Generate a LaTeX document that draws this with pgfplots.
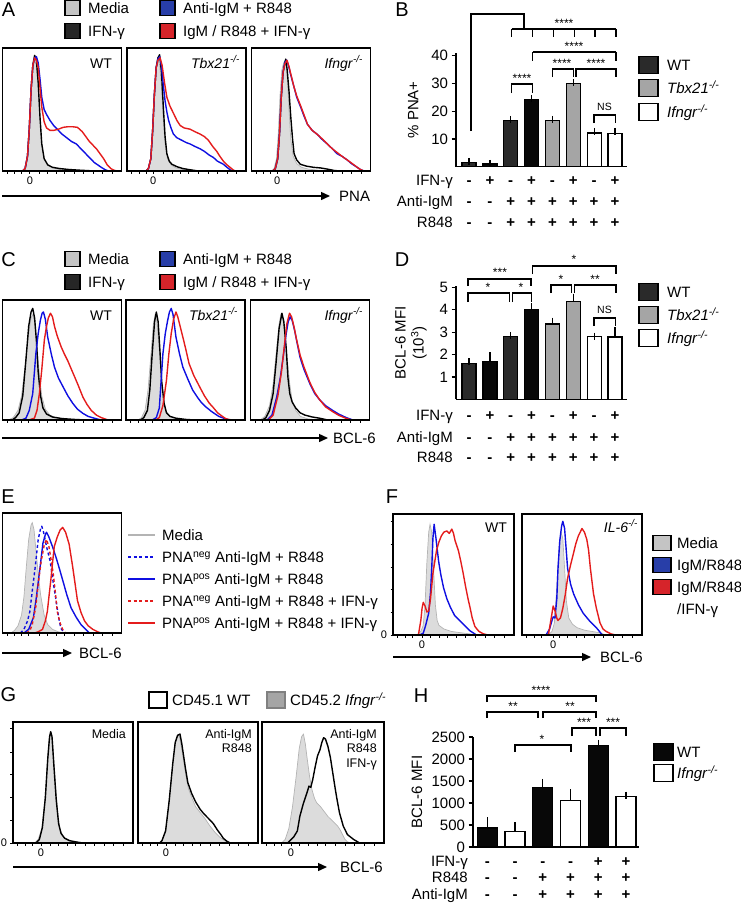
\documentclass[border=0pt]{standalone}
\usepackage{pgfplots}
\pgfplotsset{compat=1.18}
\usepackage{fontspec}
\setmainfont{Liberation Sans}
\usetikzlibrary{arrows.meta}
\definecolor{cblue}{RGB}{15,15,225}
\definecolor{cred}{RGB}{228,28,28}
\definecolor{cgfill}{RGB}{220,220,220}
\definecolor{cgline}{RGB}{180,180,180}
\definecolor{lblue}{RGB}{40,62,168}
\definecolor{lred}{RGB}{214,36,42}
\definecolor{lgray}{RGB}{196,196,196}
\definecolor{lblack}{RGB}{38,38,38}
\definecolor{wtdark}{RGB}{42,42,42}
\definecolor{wtblack}{RGB}{8,8,8}
\definecolor{tbxgray}{RGB}{165,165,165}
\definecolor{ggray}{RGB}{165,165,165}
\newcommand{\fs}{\fontsize{15}{18}\selectfont}
\newcommand{\fsa}{\fontsize{14}{16}\selectfont}
\newcommand{\fsg}{\fontsize{12.5}{14.3}\selectfont}
\newcommand{\fsx}{\fontsize{11}{13}\selectfont}
\newcommand{\fst}{\fontsize{12}{14}\selectfont}
\newcommand{\fsn}{\fontsize{10.5}{12}\selectfont}
\newcommand{\fsl}{\fontsize{20}{24}\selectfont}
\newcommand{\ko}{\textsuperscript{\textit{-/-}}}
\pgfplotsset{
  every axis/.append style={/pgf/number format/assume math mode=true, /pgf/number format/1000 sep={}},
  hist/.style={scale only axis, anchor=north west, xmin=0, xmax=100, ymin=0, ymax=100,
    axis on top, axis line style={line width=1.6pt}, ytick=\empty, xtick pos=bottom,
    xtick={#1,4,10,16,31,38,45,52,60,68,76,84,92}, xticklabels={,,,,,,,,,,,,},
    tick align=outside, major tick length=2.5pt, tick style={line width=0.8pt,black},
    tick label style={font=\fsx}, clip=true},
  hist/.default=22,
  zero/.style={xticklabels={0,,,,,,,,,,,,}},
  fillg/.style={fill=cgfill, draw=cgline, line width=0.7pt, mark=none},
  cb/.style={black, line width=1.4pt, mark=none, line join=round},
  cu/.style={cblue, line width=1.4pt, mark=none, line join=round},
  cr/.style={cred, line width=1.4pt, mark=none, line join=round},
  barax/.style={scale only axis, anchor=north west, axis x line*=bottom, axis y line*=left,
    axis line style={line width=1.5pt}, xtick=\empty, ytick pos=left, tick align=outside,
    major tick length=4.5pt, tick style={line width=1.3pt,black}, tick label style={font=\fs},
    ylabel style={font=\fs}, clip=false},
  bars/.style={ybar, bar width=#1, bar shift=0pt, draw=black, line width=1.3pt, mark=none,
    error bars/y dir=plus, error bars/y explicit,
    error bars/error bar style={line width=1.3pt, black},
    error bars/error mark options={line width=1.3pt, mark size=3.5pt, black}},
}
\tikzset{
  brk/.style={line width=1.3pt, black},
  arr/.style={line width=1.4pt, -{Triangle[length=9pt,width=8pt]}},
  lab/.style={anchor=base west, inner sep=0},
  labr/.style={anchor=base east, inner sep=0},
  sgn/.style={anchor=base, inner sep=0},
  ast/.style={font=\fst, inner sep=0},
}
\newcommand{\brk}[4]{\draw[brk] (#1,#4) -- (#1,#3) -- (#2,#3) -- (#2,#4);}
\begin{document}
\begin{tikzpicture}[font=\fs]
\useasboundingbox (0,0) rectangle (741pt,-903pt);

% ================= Panel A =================
\begin{axis}[hist=23, zero, at={(2.5pt,-48pt)}, width=119pt, height=123pt]
\addplot[fillg] coordinates {(17,0)(19,2)(21,10)(22.5,30)(24,62)(25.5,82)(27,90)(28.5,86)(30,68)(31.5,42)(33,22)(35,10)(38,5)(42,2.5)(48,1.2)(58,0.5)(70,0)} \closedcycle;
\addplot[cb] coordinates {(17,0)(19,2)(21,12)(22.5,34)(24,66)(25.5,86)(27,94)(28.5,90)(30,72)(31.5,44)(33,22)(35,10)(38,5)(42,3)(48,2)(56,1.2)(66,0.6)(78,0)};
\addplot[cu] coordinates {(17,0)(19,2)(21,12)(22.5,34)(24,66)(25.5,86)(27,92)(28.5,93)(30,88)(31.5,75)(33,60)(35,50)(37,46)(40,41)(43,37)(47,33)(50,30)(54,27)(58,24)(62,22)(65,19)(68,16)(71,13)(74,10)(77,7)(80,5)(83,3)(86,1.2)(89,0)};
\addplot[cr] coordinates {(17,0)(19,2)(21,12)(22.5,34)(24,66)(25.5,86)(27,92)(28.5,90)(30,84)(31.5,68)(33,52)(35,40)(37,35)(40,33)(43,33)(47,34)(51,35.5)(55,36)(59,36)(63,35.5)(67,32)(70,28)(73,24)(76,21)(79,18)(82,14)(85,10)(88,5)(91,2)(94,0.5)(97,0)};
\end{axis}
\begin{axis}[hist=22, zero, at={(127pt,-48pt)}, width=119pt, height=123pt]
\addplot[fillg] coordinates {(16,0)(18,2)(20,10)(21.5,30)(23,62)(24.5,82)(26,90)(27.5,86)(29,68)(30.5,42)(32,22)(34,10)(37,5)(41,2.5)(47,1.2)(57,0.5)(68,0)} \closedcycle;
\addplot[cb] coordinates {(16,0)(18,2)(20,10)(21.5,32)(23,62)(24.5,84)(26,92)(27.4,94.5)(29,80)(30.7,49)(32,28)(33.5,14)(35.5,8)(37.7,5.5)(42,3.5)(47,2)(53,1)(60,0)};
\addplot[cu] coordinates {(16,0)(18,2)(20,10)(21.5,32)(23,62)(24.5,84)(26,91)(27.5,93)(29,85)(30.5,70)(32,57)(33.5,48)(35,41)(37,35)(39,30)(42,27)(46,25)(50,23)(53,22)(57,20)(61.5,18)(65,16)(69,13)(72.6,11)(76,8)(79,6.5)(81,5.5)(84,3)(86.6,1)(89,0)};
\addplot[cr] coordinates {(16,0)(18,2)(20,10)(21.5,32)(23,62)(24.5,84)(26,90)(27.8,92)(29.5,86)(31.5,72)(33.5,60)(36,53)(39,47)(42,41)(44.7,37)(48,35)(53,34)(57,32)(61.5,30)(65,28)(68.4,25)(72,20)(75.4,16)(78,12)(81,8)(84,5)(86.6,3)(89,1)(91,0)};
\end{axis}
\begin{axis}[hist=21.5, zero, at={(251.5pt,-48pt)}, width=119pt, height=123pt]
\addplot[fillg] coordinates {(17,0)(19,2)(21,10)(22.5,30)(24,62)(25.5,82)(27,88)(28.5,90)(30,78)(31.5,50)(33,26)(35,12)(38,6)(42,3)(48,1.5)(58,0.5)(70,0)} \closedcycle;
\addplot[cb] coordinates {(18,0)(20,2)(22,10)(23.5,30)(25,60)(26.5,80)(28,88)(28.8,91)(30,82)(31.5,65)(33,44)(34.5,26)(35.8,14)(38,9)(41,5.5)(46,4)(52,3)(58,2.5)(64,1.5)(69,0.5)(74,0)};
\addplot[cu] coordinates {(18,0)(20,2)(22,10)(23.5,30)(25,60)(26.5,80)(28,88)(29.6,90)(31,86)(33,78)(35.8,68)(38,60)(41.3,52)(44,45)(47,38)(51,33)(55,30)(59,26)(63.7,22)(68,18)(72,14)(76,12)(80.4,9)(84,6)(88.8,3)(91,1.5)(94.4,0)};
\addplot[cr] coordinates {(18,0)(20,2)(22,10)(23.5,30)(25,60)(26.5,80)(28,87)(29.8,90)(31.5,85)(33.5,77)(35.8,68)(38,61)(41.3,53)(44,46)(47,38)(51,33)(55,30)(59,26.5)(63.7,22)(68,18)(72,15)(76,12)(80.4,9)(84,6.5)(88.8,3)(91,1.5)(94.4,0)};
\end{axis}

% ================= Panel C =================
\begin{axis}[hist, at={(2.5pt,-300pt)}, width=119pt, height=120pt]
\addplot[fillg] coordinates {(5,0)(9,2)(13,8)(16,20)(19,45)(22,72)(24,85)(25.5,88)(27,82)(29,62)(31,38)(33,20)(36,9)(40,4)(46,1.5)(55,0)} \closedcycle;
\addplot[cb] coordinates {(8,0)(11,2)(14,6)(17,20)(19.5,48)(22,78)(24,90)(25.4,93)(27,85)(28.5,66)(30,40)(32,20)(34,10)(37,5)(42,2.5)(50,1.2)(60,0.5)(70,0)};
\addplot[cu] coordinates {(16,0)(19.7,1.5)(22.5,8)(25.4,22)(28,55)(30,72)(31.8,83)(33.3,89)(34.4,90)(36,84)(38,69)(41,55)(43.7,44)(47,35)(50.7,28)(55,20)(59,14)(63,9)(67.6,5.5)(72,3)(77.5,1.4)(83,0)};
\addplot[cr] coordinates {(22,0)(26.8,1.5)(29,8)(31,22)(33,42)(35.2,67)(37,78)(38.5,85)(40.3,89)(42,86)(43.7,78)(46,70)(49.3,61)(52,55)(55,49)(58,42)(60.6,36)(64,28)(67.6,19)(71,13)(74.6,8)(79,4)(83,2)(88.7,0)};
\end{axis}
\begin{axis}[hist, at={(126pt,-300pt)}, width=119pt, height=120pt]
\addplot[fillg] coordinates {(10,0)(13,2)(16,8)(18.5,25)(21,55)(23,80)(24.5,88)(26,82)(28,58)(30,32)(32,15)(34,7)(37,3)(42,1.2)(50,0)} \closedcycle;
\addplot[cb] coordinates {(12,0)(15,2)(18,8)(20,25)(22,55)(24,82)(25.5,90)(27,82)(28.5,58)(30,32)(32,14)(34,6)(37,3)(42,1.5)(50,0.5)(58,0)};
\addplot[cu] coordinates {(22,0)(25.5,2)(28,10)(31,55)(33,72)(35,83)(36.5,90)(38,93)(39.5,88)(42,69)(45,55)(47.8,44)(52,34)(56,25)(60,19)(63,15)(67,11)(72,7)(78,3)(83,1.2)(87,0)};
\addplot[cr] coordinates {(25,0)(28,2)(31,12)(34,33)(36,55)(38,72)(40,84)(42,90)(43.5,86)(46,76)(47.8,69)(50,60)(53,47)(57,37)(61.7,28)(66,20)(70,14)(72.8,11)(77,6)(81,3)(84,1)(89,0)};
\end{axis}
\begin{axis}[hist, at={(250.5pt,-300pt)}, width=119pt, height=120pt]
\addplot[fillg] coordinates {(8,0)(12,3)(16,12)(19,30)(22,60)(24,80)(25.5,88)(27,86)(29,72)(31,50)(33,30)(35,16)(38,8)(42,3)(48,1)(56,0)} \closedcycle;
\addplot[cb] coordinates {(10,0)(13,2)(16,8)(19,22)(21.5,48)(24,76)(26.4,89)(28,82)(30,60)(31.5,35)(33,22)(35,15)(38,10)(41.7,6)(46,4)(52,2.5)(58,1.5)(65,0)};
\addplot[cu] coordinates {(14,0)(18,4)(22,19)(25,35)(27.8,55)(30,72)(31.7,82)(33.3,86)(35,83)(37,75)(39,65)(41.7,52)(45,42)(50,30)(54,22)(58,17)(63,12)(69,8)(74,5)(80.5,2)(86,0)};
\addplot[cr] coordinates {(15,0)(19,4)(23,20)(26,40)(28.5,62)(30.5,80)(32.8,89)(34.5,86)(36.5,78)(38.5,68)(41.7,54)(45,44)(50,31)(54,23)(58,17)(63,11)(69,7)(74,4)(80,1.5)(85,0)};
\end{axis}

% ================= Panel E =================
\begin{axis}[hist, at={(2.5pt,-513pt)}, width=119pt, height=120pt]
\addplot[fillg] coordinates {(7,0)(10,2)(13,6)(16,15)(18,30)(20,55)(22,78)(24,90)(25,92)(26.5,86)(28,70)(30,50)(32,32)(35,15)(38,7)(42,3)(47,1)(52,0)} \closedcycle;
\addplot[cu, dash pattern=on 3pt off 2.5pt] coordinates {(15,0)(18,3)(21,10)(23,18)(25,35)(27.5,55)(30,78)(32,87)(33,89)(34.5,84)(37,72)(40,60)(42.5,43)(45,27)(47,14)(49,4)(52,0)};
\addplot[cu] coordinates {(18,0)(22,3)(26,13)(28.5,30)(31.6,55)(34,75)(36,82)(37,84)(39,80)(42,72)(45,63)(48,53)(50.6,44)(54,32)(57.6,21)(62,13)(66,7)(70,3)(73,0)};
\addplot[cr, dash pattern=on 3pt off 2.5pt] coordinates {(20,0)(23,2)(25,7)(28,22)(30,41)(32.5,60)(35,73)(37,78)(39,72)(41,60)(42.7,49)(44.5,33)(46,18)(48.5,8)(50.6,3)(53,0)};
\addplot[cr] coordinates {(27,0)(30,1)(33.6,3)(36,10)(37.7,18)(39,30)(40.6,44)(42,58)(43.5,72)(46,80)(48.5,86)(50.6,88)(53,84)(56,74)(59,55)(63,27)(66,17)(69,10)(72,6)(76,3)(80,1)(83,0)};
\end{axis}

% ================= Panel F =================
\begin{axis}[hist=24, zero, at={(393pt,-514pt)}, width=121pt, height=121pt,
  ytick={0,19,38,56,75,94}, yticklabels={0,,,,,}, ytick pos=left]
\addplot[fillg] coordinates {(20,0)(23,3)(25,8)(26.5,25)(28,60)(29.5,85)(30.6,91.5)(32,85)(33.5,55)(35,25)(36.5,12)(38,8)(42,5)(48,3)(55,2)(63,1)(68,0)} \closedcycle;
\addplot[cu] coordinates {(22,0)(25,1.5)(27,8)(29.5,18)(31,35)(32,55)(33,80)(34,91.5)(35.5,80)(37.7,61)(39.5,50)(41.8,39)(44.5,30)(47.4,23)(51,16)(55.5,11.6)(60,7)(63.6,3.5)(69,0)};
\addplot[cr] coordinates {(21,0)(23,12)(24,22)(25,27)(26.5,24)(28,19)(29.5,20)(31,30)(33,51)(36,70)(38,77)(40,82)(42,85)(44.5,86)(46.5,84)(48.6,87.5)(50,84)(51.3,78)(54,70)(56,61)(58,51)(60,40)(62,30)(63.6,23)(65.5,14)(67.7,7)(71,3)(74.6,1)(78.5,0)};
\end{axis}
\begin{axis}[hist=26, zero, at={(522pt,-514pt)}, width=120pt, height=121pt]
\addplot[fillg] coordinates {(22,0)(25,3)(27,10)(29,40)(31,75)(32.5,85)(34,80)(35.5,55)(37,28)(39,14)(42,9)(46,6)(52,4)(58,3)(64,2)(70,0)} \closedcycle;
\addplot[cu] coordinates {(20,0)(23,5)(25,12)(26,15)(27.5,14)(29,30)(30,55)(31.5,78)(33,90)(34,94)(35.5,88)(38,55)(40.5,42)(43,34)(47,25)(51,18)(56,12)(62,6)(67,0)};
\addplot[cr] coordinates {(22,0)(24,12)(26,24)(27.5,20)(29,14)(30,12)(32,14)(34,22)(36,33)(38,47)(40.5,58)(43,68)(45,76)(47,82)(50,88)(52,85)(54,79)(55.5,70)(57,55)(59.6,34)(62,22)(65,10)(67.5,5)(70,3)(74,1)(78,0)};
\end{axis}

% ================= Panel G =================
\begin{axis}[hist=23.3, zero, at={(13pt,-722pt)}, width=120pt, height=121pt,
  ytick={0,19,38,57,75,95}, yticklabels={0,,,,,}, ytick pos=left]
\addplot[fillg] coordinates {(18,0)(21,3)(24,12)(26.5,35)(28.5,65)(30,85)(31.4,91)(33,84)(35,55)(37,28)(39,12)(42,5)(46,2)(52,0.5)(58,0)} \closedcycle;
\addplot[cb] coordinates {(19,0)(22,3)(24.5,13)(27,38)(29,70)(30.5,88)(31.4,92)(32.5,88)(34,65)(36,36)(38,16)(40,8)(43,4)(47,2)(52,1)(58,0)};
\end{axis}
\begin{axis}[hist=23.3, zero, at={(138pt,-722pt)}, width=120pt, height=121pt]
\addplot[fillg] coordinates {(18,0)(20,2)(23,10)(26,35)(29,65)(31,82)(33,89)(34.5,88)(36,80)(38,68)(40,55)(42,45)(45,37)(48,30)(52,25)(56,20)(60,14)(64,9)(68,5)(72,2)(77,0)} \closedcycle;
\addplot[cb] coordinates {(18,0)(20,2)(23,10)(26,35)(29,66)(31,83)(33,89)(35,90)(36.5,82)(38,72)(39.5,62)(41.5,50)(44.7,41)(48,34)(51.7,28)(55,24)(59,20)(62.8,16)(66,11)(69,7)(71,4)(74,1.5)(77,0)};
\end{axis}
\begin{axis}[hist=23.8, zero, at={(262pt,-722pt)}, width=122pt, height=121pt]
\addplot[fillg] coordinates {(16,0)(19,3)(22,12)(25,30)(28,55)(30.5,78)(32.5,88)(34,90)(35.5,82)(37,70)(39,55)(41,44)(43,37)(45,33)(48,30)(51,26)(54,22)(57,19)(60,16)(62,14)(64,11)(66,7)(68,3)(70,1)(73,0)} \closedcycle;
\addplot[cb] coordinates {(21,0)(23,2)(26,5)(29,10)(31,22)(34,33)(37,42)(38.5,47)(40,46)(41.5,52)(43.6,63)(45.5,72)(47.5,77)(49,83)(50.5,87)(52,86)(54,80)(56,71)(58,58)(60,45)(61.5,36)(63.5,25)(66.6,14)(70,7)(75,3)(80,0)};
\end{axis}

% ================= Panel B =================
\begin{axis}[barax, at={(456pt,-53pt)}, width=171pt, height=113.7pt,
  xmin=0.375, xmax=8.57, ymin=0, ymax=41, ytick={10,20,30,40},
  ylabel={\% PNA+}, ylabel style={at={(axis description cs:-0.25,0.5)}, anchor=center}]
\addplot[fill=wtdark, bars=14pt] coordinates {(1,1.5) +- (0,0.4) (3,16.6) +- (0,0.5)};
\addplot[fill=wtblack, bars=14pt] coordinates {(2,1.0) +- (0,0.2) (4,24.3) +- (0,0.3)};
\addplot[fill=tbxgray, bars=14pt] coordinates {(5,16.6) +- (0,0.5) (6,29.9) +- (0,0.3)};
\addplot[fill=white, bars=14pt] coordinates {(7,12.2) +- (0,0.5) (8,12.0) +- (0,0.7)};
\end{axis}

% ================= Panel D =================
\begin{axis}[barax, at={(456pt,-286.3pt)}, width=171pt, height=113.1pt,
  xmin=0.375, xmax=8.57, ymin=0, ymax=5.05, ytick={1,2,3,4,5},
  ylabel={BCL-6 MFI\\(10\textsuperscript{3})}, ylabel style={at={(axis description cs:-0.263,0.5)}, anchor=center, align=center}]
\addplot[fill=wtdark, bars=14pt] coordinates {(1,1.6) +- (0,0.09) (3,2.8) +- (0,0.06)};
\addplot[fill=wtblack, bars=14pt] coordinates {(2,1.68) +- (0,0.26) (4,4.0) +- (0,0.14)};
\addplot[fill=tbxgray, bars=14pt] coordinates {(5,3.37) +- (0,0.12) (6,4.37) +- (0,0.2)};
\addplot[fill=white, bars=14pt] coordinates {(7,2.8) +- (0,0.03) (8,2.78) +- (0,0.3)};
\end{axis}

% ================= Panel H =================
\begin{axis}[barax, at={(473pt,-737pt)}, width=166pt, height=110pt,
  xmin=0.485, xmax=6.47, ymin=0, ymax=2500, ytick={0,500,1000,1500,2000,2500},
  ylabel={BCL-6 MFI}, ylabel style={at={(axis description cs:-0.337,0.5)}, anchor=center}]
\addplot[fill=wtblack, bars=20pt] coordinates {(1,430) +- (0,170) (3,1360) +- (0,110) (5,2310) +- (0,45)};
\addplot[fill=white, bars=20pt] coordinates {(2,350) +- (0,135) (4,1060) +- (0,170) (6,1150) +- (0,30)};
\end{axis}

\begin{scope}[x=1pt,y=-1pt]
% panel letters
\node[font=\fsl, inner sep=0] at (8.5,10) {A};
\node[font=\fsl, inner sep=0] at (402,10) {B};
\node[font=\fsl, inner sep=0] at (8.5,260) {C};
\node[font=\fsl, inner sep=0] at (402,260) {D};
\node[font=\fsl, inner sep=0] at (8,497) {E};
\node[font=\fsl, inner sep=0] at (392,497) {F};
\node[font=\fsl, inner sep=0] at (8.5,695) {G};
\node[font=\fsl, inner sep=0] at (421,696) {H};

% legends A and C
\foreach \oy in {0,251} {
  \draw[line width=1.1pt, fill=lgray] (65,0.5+\oy) rectangle ++(15,15);
  \draw[line width=1.1pt, fill=lblack] (65,23.5+\oy) rectangle ++(15,15);
  \draw[line width=1.1pt, fill=lblue] (160,0.5+\oy) rectangle ++(15,15);
  \draw[line width=1.1pt, fill=lred] (160,23.5+\oy) rectangle ++(15,15);
  \node[lab] at (88,13.4+\oy) {Media};
  \node[lab] at (88,36.4+\oy) {IFN-γ};
  \node[lab] at (183,13.4+\oy) {Anti-IgM + R848};
  \node[lab] at (183,36.4+\oy) {IgM / R848 + IFN-γ};
}
% histogram annotations A, C
\node[labr, font=\fsa] at (112,68) {WT};
\node[labr, font=\fsa] at (240,68) {\textit{Tbx21}\ko};
\node[labr, font=\fsa] at (363,68) {\textit{Ifngr}\ko};
\node[labr, font=\fsa] at (112,320) {WT};
\node[labr, font=\fsa] at (238,320) {\textit{Tbx21}\ko};
\node[labr, font=\fsa] at (363,320) {\textit{Ifngr}\ko};
% arrows
\draw[arr] (2,196) -- (330,196); \node[lab] at (339,201) {PNA};
\draw[arr] (2,438) -- (328,438); \node[lab] at (333,443) {BCL-6};
\draw[arr] (2,653) -- (72,653); \node[lab] at (79,658) {BCL-6};
\draw[arr] (393,657) -- (591,657); \node[lab] at (600,662) {BCL-6};
\draw[arr] (13,867) -- (327,867); \node[lab] at (340,872) {BCL-6};

% B table
\node[labr] at (453,185.4) {IFN-γ};
\node[labr] at (453,206.4) {Anti-IgM};
\node[labr] at (453,227.4) {R848};
\foreach \x/\a/\b/\c in {469/-/-/-, 489.9/+/-/-, 510.7/-/+/+, 531.6/+/+/+, 552.4/-/+/+, 573.3/+/+/+, 594.1/-/+/+, 615/+/+/+} {
  \node[sgn] at (\x,185.4) {\textbf{\a}};
  \node[sgn] at (\x,206.4) {\textbf{\b}};
  \node[sgn] at (\x,227.4) {\textbf{\c}};
  \node[sgn] at (\x,420.4) {\textbf{\a}};
  \node[sgn] at (\x,442.4) {\textbf{\b}};
  \node[sgn] at (\x,462.4) {\textbf{\c}};
}
\node[labr] at (453,420.4) {IFN-γ};
\node[labr] at (453,442.4) {Anti-IgM};
\node[labr] at (453,462.4) {R848};

% B brackets
\draw[brk] (471,131) -- (471,14) -- (524,14) -- (524,29);
\draw[brk] (511.7,29) -- (616,29);
\foreach \x in {511.7,532.6,553.4,574.3,595.1,616} \draw[brk] (\x,29) -- (\x,37);
\node[ast] at (564,23) {****};
\draw[brk] (532.6,52) -- (616,52);
\foreach \x in {532.6,616} \draw[brk] (\x,52) -- (\x,61);
\node[ast] at (574,46) {****};
\brk{552.4}{573.3}{69}{77} \node[ast] at (562,63) {****};
\brk{576}{616}{69}{77} \node[ast] at (596,63) {****};
\brk{511.7}{532.6}{84}{93} \node[ast] at (522,78) {****};
\brk{594.1}{615.5}{115}{123} \node[font=\fsn, inner sep=0] at (604.5,107) {NS};

% B legend
\draw[line width=1.3pt, fill=wtdark] (639,56.5) rectangle (658,73.5); \node[lab] at (667,70.4) {WT};
\draw[line width=1.3pt, fill=tbxgray] (639,79.5) rectangle (658,96.5); \node[lab] at (667,93.4) {\textit{Tbx21}\ko};
\draw[line width=1.3pt, fill=white] (639,103.5) rectangle (658,120.5); \node[lab] at (667,117.4) {\textit{Ifngr}\ko};

% D brackets
\brk{468}{531}{279}{286} \node[ast] at (500,272) {***};
\brk{468}{509.5}{293}{302} \node[ast] at (488,287) {*};
\brk{512.5}{531.6}{293}{302} \node[ast] at (521,287) {*};
\brk{532.6}{616}{266}{274} \node[ast] at (574,259) {*};
\brk{551}{571.5}{285}{293} \node[ast] at (561,279) {*};
\brk{574.5}{616}{285}{293} \node[ast] at (595,279) {**};
\brk{594.1}{615.5}{318}{326} \node[font=\fsn, inner sep=0] at (604.5,310) {NS};

% D legend
\draw[line width=1.3pt, fill=wtdark] (639,283.5) rectangle (658,300.5); \node[lab] at (667,297.4) {WT};
\draw[line width=1.3pt, fill=tbxgray] (639,306.5) rectangle (658,323.5); \node[lab] at (667,320.4) {\textit{Tbx21}\ko};
\draw[line width=1.3pt, fill=white] (639,329.5) rectangle (658,346.5); \node[lab] at (667,343.4) {\textit{Ifngr}\ko};

% E legend
\draw[cgline, line width=1.4pt] (128,535) -- (155,535); \node[lab] at (162,540.4) {Media};
\draw[cblue, line width=1.4pt, dash pattern=on 3pt off 2.5pt] (128,557) -- (155,557); \node[lab] at (162,562.4) {PNA\textsuperscript{neg} Anti-IgM + R848};
\draw[cblue, line width=1.4pt] (128,579) -- (155,579); \node[lab] at (162,584.4) {PNA\textsuperscript{pos} Anti-IgM + R848};
\draw[cred, line width=1.4pt, dash pattern=on 3pt off 2.5pt] (128,601) -- (155,601); \node[lab] at (162,606.4) {PNA\textsuperscript{neg} Anti-IgM + R848 + IFN-γ};
\draw[cred, line width=1.4pt] (128,623) -- (155,623); \node[lab] at (162,628.4) {PNA\textsuperscript{pos} Anti-IgM + R848 + IFN-γ};

% F annotations and legend
\node[labr, font=\fsa] at (507,532) {WT};
\node[labr, font=\fsa] at (638,532) {\textit{IL-6}\ko};
\draw[line width=1.1pt, fill=lgray] (653,535.5) rectangle ++(18,15); \node[lab] at (677,548.4) {Media};
\draw[line width=1.1pt, fill=lblue] (653,557.5) rectangle ++(18,15); \node[lab] at (677,570.4) {IgM/R848};
\draw[line width=1.1pt, fill=lred] (653,579.5) rectangle ++(18,15); \node[lab] at (677,592.4) {IgM/R848};
\node[lab] at (677,614.4) {/IFN-γ};

% G legend and annotations
\draw[line width=1.3pt, fill=white] (149,692) rectangle (167,708); \node[lab] at (172,705.4) {CD45.1 WT};
\draw[line width=1.3pt, draw=gray, fill=ggray] (267,692) rectangle (285,708); \node[lab] at (290,705.4) {CD45.2 \textit{Ifngr}\ko};
\node[labr, font=\fsg] at (126,738.5) {Media};
\node[labr, font=\fsg] at (252,738.5) {Anti-IgM};
\node[labr, font=\fsg] at (252,752.5) {R848};
\node[labr, font=\fsg] at (377,738.5) {Anti-IgM};
\node[labr, font=\fsg] at (377,752.5) {R848};
\node[labr, font=\fsg] at (377,767) {IFN-γ};

% H table
\node[labr] at (468,866.4) {IFN-γ};
\node[labr] at (468,882.4) {R848};
\node[labr] at (468,899.4) {Anti-IgM};
\foreach \x/\a/\b/\c in {487.3/-/-/-, 515.05/-/-/-, 542.8/-/+/+, 570.55/-/+/+, 598.3/+/+/+, 626.05/+/+/+} {
  \node[sgn] at (\x,866.4) {\textbf{\a}};
  \node[sgn] at (\x,882.4) {\textbf{\b}};
  \node[sgn] at (\x,899.4) {\textbf{\c}};
}
% H brackets
\brk{487}{596}{696}{702} \node[ast] at (541,690) {****};
\brk{487}{538}{712}{718} \node[ast] at (513,706) {**};
\brk{543}{596}{712}{718} \node[ast] at (570,706) {**};
\brk{572}{596}{728}{736} \node[ast] at (584,722) {***};
\brk{600}{626}{728}{736} \node[ast] at (613,722) {***};
\brk{515}{571}{745}{752} \node[ast] at (542,739) {*};
% H legend
\draw[line width=1.3pt, fill=wtblack] (654,743.5) rectangle (673,760.5); \node[lab] at (677,757.4) {WT};
\draw[line width=1.3pt, fill=white] (654,764.5) rectangle (673,781.5); \node[lab] at (677,778.4) {\textit{Ifngr}\ko};
\end{scope}
\end{tikzpicture}
\end{document}
